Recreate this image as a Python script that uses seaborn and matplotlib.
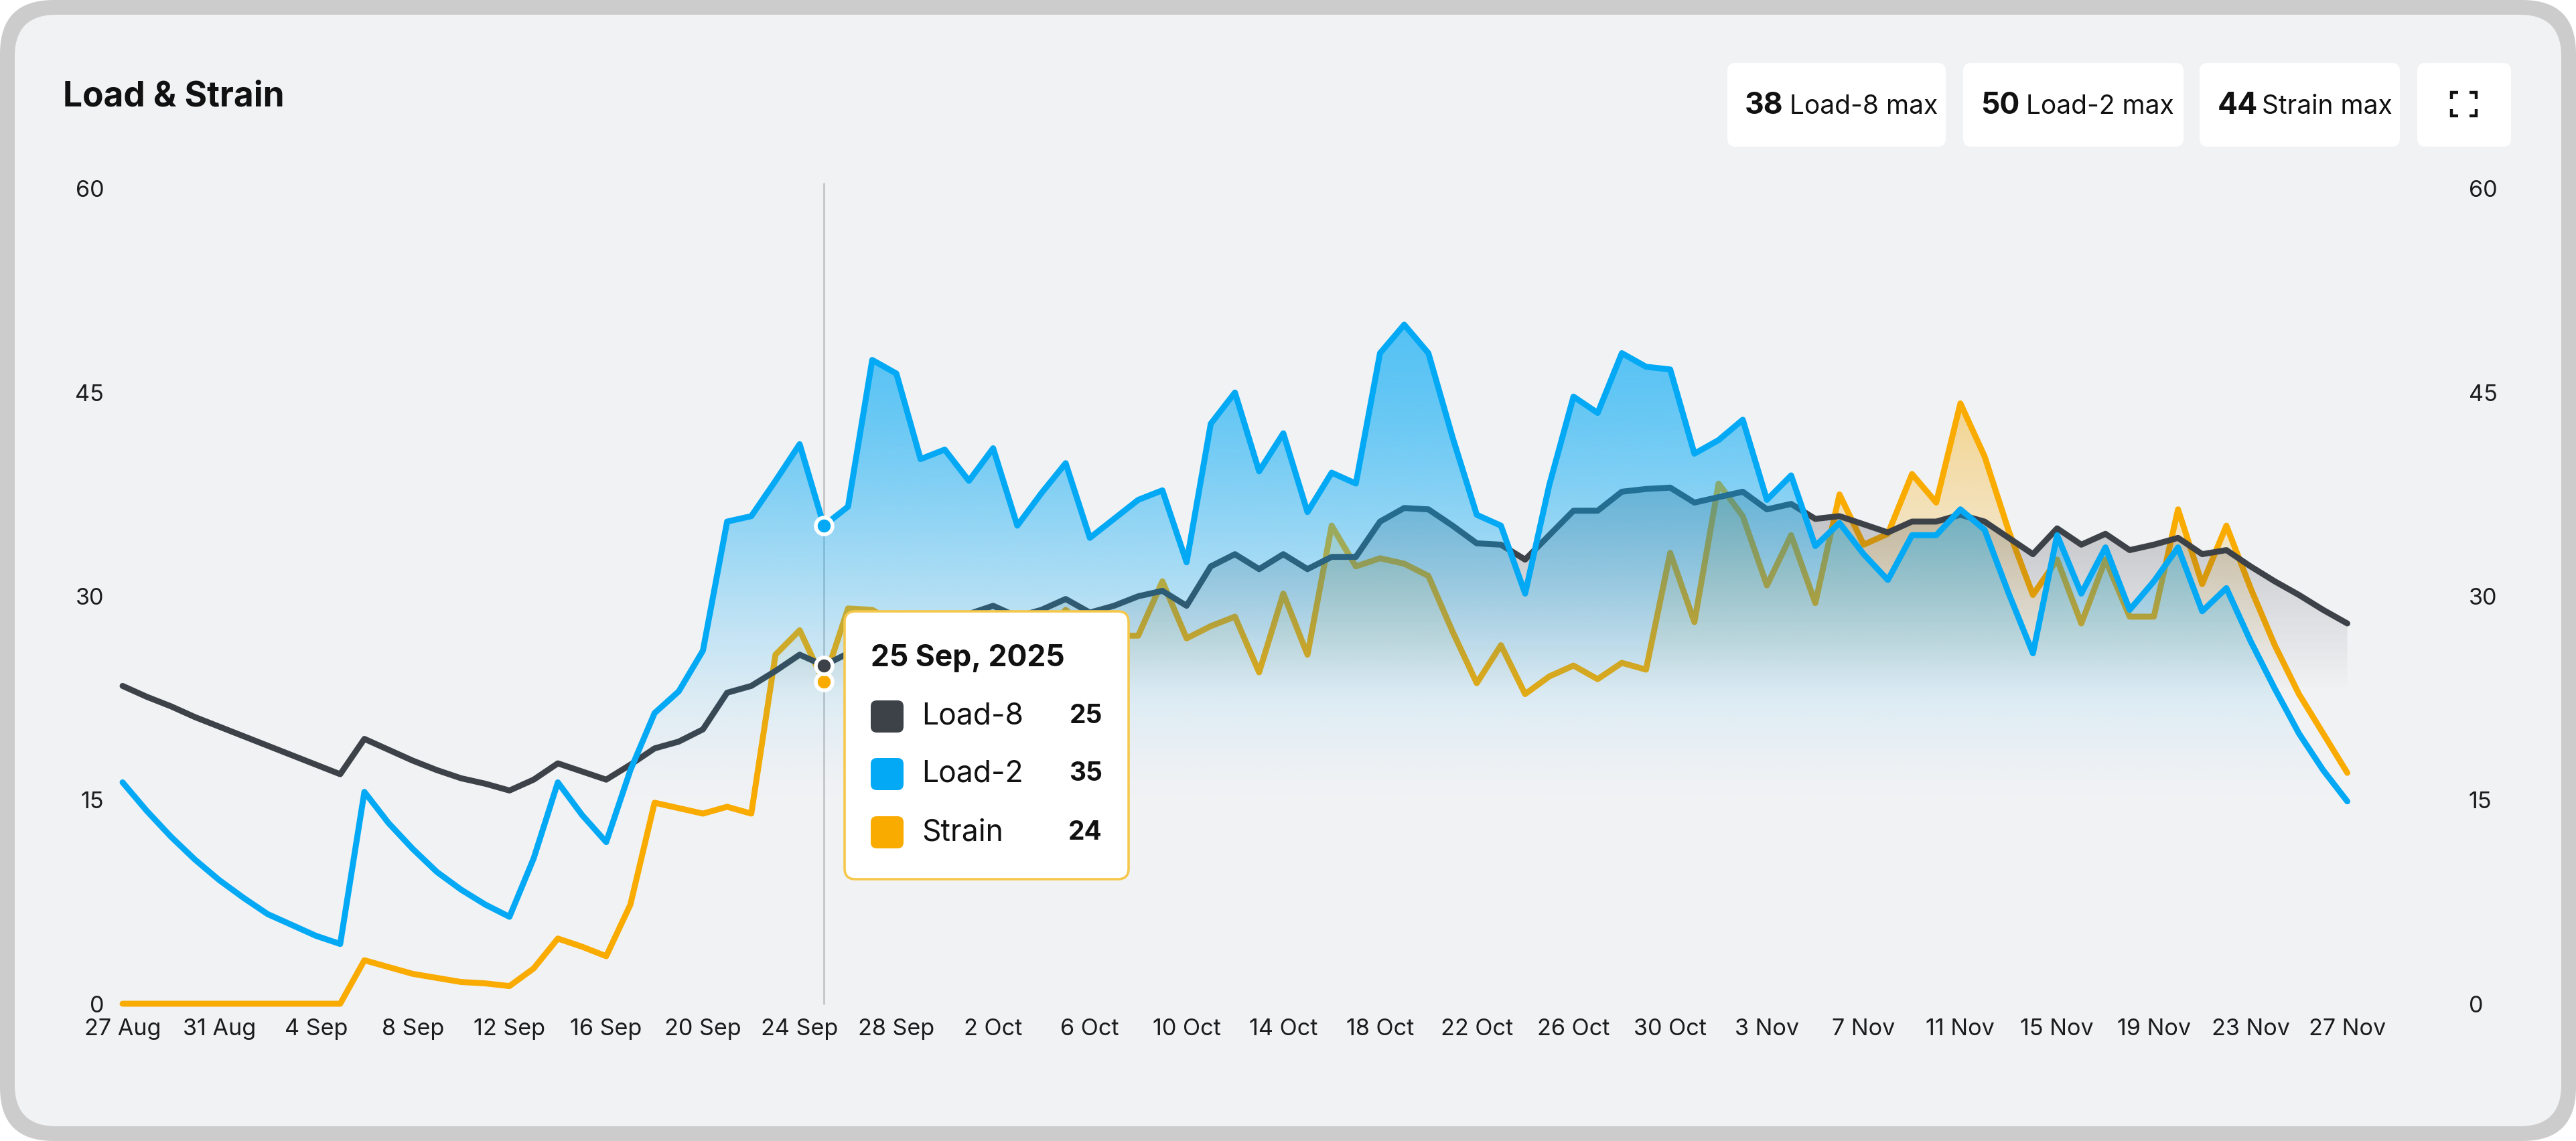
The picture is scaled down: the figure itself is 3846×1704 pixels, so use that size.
import numpy as np
import pandas as pd
import seaborn as sns
import matplotlib.pyplot as plt
from matplotlib.patches import FancyBboxPatch
from matplotlib.lines import Line2D

W, H, DPI = 3846, 1704, 200

#######################################################
### DATA (one value per day)
#######################################################
dates = pd.date_range('2025-08-27', '2025-11-27', freq='D')

load8 = [23.4, 22.6, 21.9, 21.1, 20.4, 19.7, 19.0, 18.3, 17.6, 16.9,
         19.5, 18.7, 17.9, 17.2, 16.6, 16.2, 15.7, 16.5, 17.7, 17.1,
         16.5, 17.6, 18.8, 19.3, 20.2, 22.9, 23.4, 24.5, 25.7, 24.9,
         25.8, 28.3, 28.6, 28.3, 28.0, 28.7, 29.3, 28.5, 29.0, 29.8,
         28.8, 29.3, 30.0, 30.4, 29.3, 32.2, 33.1, 32.0, 33.1, 32.0,
         32.9, 32.9, 35.5, 36.5, 36.4, 35.2, 33.9, 33.8, 32.7, 34.5,
         36.3, 36.3, 37.7, 37.9, 38.0, 36.9, 37.3, 37.7, 36.4, 36.8,
         35.7, 35.9, 35.3, 34.7, 35.5, 35.5, 36.0, 35.5, 34.3, 33.1,
         35.0, 33.8, 34.6, 33.4, 33.8, 34.3, 33.1, 33.4, 32.2, 31.1,
         30.1, 29.0, 28.0]

load2 = [16.3, 14.2, 12.3, 10.6, 9.1, 7.8, 6.6, 5.8, 5.0, 4.4,
         15.6, 13.3, 11.4, 9.7, 8.4, 7.3, 6.4, 10.7, 16.3, 13.9,
         11.9, 17.2, 21.4, 23.0, 26.0, 35.5, 35.9, 38.5, 41.2, 35.2,
         36.6, 47.4, 46.4, 40.1, 40.8, 38.5, 40.9, 35.2, 37.6, 39.8,
         34.3, 35.7, 37.1, 37.8, 32.5, 42.7, 45.0, 39.2, 42.0, 36.2,
         39.1, 38.3, 47.9, 50.0, 47.9, 41.7, 36.0, 35.2, 30.2, 38.2,
         44.7, 43.5, 47.9, 46.9, 46.7, 40.5, 41.5, 43.0, 37.1, 38.9,
         33.7, 35.4, 33.1, 31.2, 34.5, 34.5, 36.4, 34.9, 30.2, 25.8,
         34.5, 30.2, 33.6, 29.0, 31.1, 33.6, 28.9, 30.6, 26.7, 23.2,
         19.9, 17.2, 14.9]

strain = [0, 0, 0, 0, 0, 0, 0, 0, 0, 0,
          3.2, 2.7, 2.2, 1.9, 1.6, 1.5, 1.3, 2.6, 4.8, 4.2,
          3.5, 7.3, 14.8, 14.4, 14.0, 14.5, 14.0, 25.7, 27.5, 23.7,
          29.1, 29.0, 28.0, 26.5, 27.5, 28.5, 27.0, 25.5, 27.0, 29.0,
          27.5, 27.1, 27.1, 31.1, 26.9, 27.8, 28.5, 24.4, 30.2, 25.7,
          35.2, 32.2, 32.8, 32.4, 31.5, 27.4, 23.6, 26.4, 22.8, 24.1,
          24.9, 23.9, 25.1, 24.6, 33.2, 28.1, 38.3, 35.9, 30.8, 34.5,
          29.5, 37.5, 33.8, 34.6, 39.0, 36.9, 44.2, 40.3, 34.8, 30.1,
          32.7, 28.0, 32.7, 28.5, 28.5, 36.4, 30.9, 35.2, 30.6, 26.4,
          22.8, 19.9, 17.0]

series_names = ['Load-8', 'Load-2', 'Strain']
series_colors = ['#3d4249', '#03a9f4', '#f9ab00']
hover_day = 29
y_ticks = [0, 15, 30, 45, 60]

days = np.arange(len(dates))
tick_days = days[::4]
tick_labels = [f'{d.day} {d:%b}' for d in dates[::4]]

df = pd.DataFrame({'day': days, 'Load-8': load8, 'Load-2': load2, 'Strain': strain})

#######################################################
### STYLE
#######################################################
sns.set_theme(style='white')
plt.rcParams['font.family'] = ['Inter', 'DejaVu Sans']
txt_col = '#1c1c1c'

fig = plt.figure(figsize=(W / DPI, H / DPI), dpi=DPI, facecolor='white')
tr = fig.dpi_scale_trans


def box(x0, y0, x1, y1, r, **kw):
    # pixel coords measured from the top-left corner
    p = FancyBboxPatch((x0 / DPI, (H - y1) / DPI), (x1 - x0) / DPI, (y1 - y0) / DPI,
                       boxstyle=f'round,pad=0,rounding_size={r / DPI}', transform=tr, **kw)
    fig.add_artist(p)
    return p


def ftext(x, y, s, **kw):
    return fig.text(x / DPI, (H - y) / DPI, s, transform=tr, **kw)


# card
box(0, 0, W, H, 80, fc='#cccccc', ec='none', zorder=-20)
box(22, 22, W - 22, H - 22, 62, fc='#f1f2f4', ec='none', zorder=-19)

ftext(94, 145, 'Load & Strain', fontsize=18.5, fontweight='bold', color='#111111', va='center')

# stat boxes
stats = [(2579, 2905, 2605, 2672, load8, 'Load-8 max'),
         (2931, 3260, 2957, 3025, load2, 'Load-2 max'),
         (3284, 3583, 3311, 3377, strain, 'Strain max')]
for x0, x1, xn, xl, vals, lab in stats:
    box(x0, 94, x1, 219, 12, fc='white', ec='none', zorder=1)
    ftext(xn, 158, f'{round(max(vals))}', fontsize=16, fontweight='bold', color='#111111', va='center')
    ftext(xl, 160, lab, fontsize=14, color='#111111', va='center')

# expand icon
box(3609, 94, 3749, 219, 12, fc='white', ec='none', zorder=1)
ix0, ix1, iy0, iy1, arm = 3660, 3697, 138, 173, 10
for cx, cy, sx, sy in [(ix0, iy0, 1, 1), (ix1, iy0, -1, 1), (ix0, iy1, 1, -1), (ix1, iy1, -1, -1)]:
    xs = [(cx + sx * arm) / DPI, cx / DPI, cx / DPI]
    ys = [(H - cy) / DPI, (H - cy) / DPI, (H - (cy + sy * arm)) / DPI]
    fig.add_artist(Line2D(xs, ys, transform=tr, color='#111111', lw=1.6, zorder=2,
                          solid_capstyle='butt', solid_joinstyle='miter'))

#######################################################
### CHART
#######################################################
ax = fig.add_axes([183 / W, 205 / H, (3658 - 183) / W, (1499 - 282) / H])
ax.patch.set_visible(False)


def gradient_fill(y, color, alpha_fn, z):
    poly = ax.fill_between(days, y, 0, facecolor='none', edgecolor='none')
    vals = np.linspace(0, 60, 600)
    img = np.zeros((600, 1, 4))
    img[..., :3] = plt.matplotlib.colors.to_rgb(color)
    img[:, 0, 3] = alpha_fn(vals)
    im = ax.imshow(img, extent=[days[0], days[-1], 0, 60], origin='lower',
                   aspect='auto', interpolation='bilinear', zorder=z)
    im.set_clip_path(poly.get_paths()[0], transform=ax.transData)


def smooth(v, lo, hi):
    s = np.clip((v - lo) / (hi - lo), 0, 1)
    return s * s * (3 - 2 * s)


fades = {
    'Strain': lambda v: 0.40 * np.clip((v - 22) / 22, 0, 1) ** 1.2,
    'Load-8': lambda v: 0.30 * np.clip((v - 23) / 15, 0, 1),
    'Load-2': lambda v: 0.66 * smooth(v, 13.5, 52),
}
colors = dict(zip(series_names, series_colors))

z = 2
for name in ['Strain', 'Load-8', 'Load-2']:
    gradient_fill(df[name].values, colors[name], fades[name], z)
    sns.lineplot(data=df, x='day', y=name, color=colors[name], linewidth=3.2,
                 ax=ax, zorder=z + 1, clip_on=False)
    z += 2

# hover line + markers
ax.plot([hover_day, hover_day], [0, 60.4], color='#c6c6c6', lw=1.0, zorder=1.5, clip_on=False)
for name in ['Load-2', 'Strain', 'Load-8']:
    ax.plot(hover_day, df[name][hover_day], 'o', ms=9, mfc=colors[name], mec='white',
            mew=2, zorder=12, clip_on=False)

ax.set_xlim(0, 96.25)
ax.set_ylim(0, 60)
ax.set_xticks(tick_days)
ax.set_xticklabels(tick_labels)
ax.set_yticks(y_ticks)
ax.set_xlabel('')
ax.set_ylabel('')
sns.despine(ax=ax, left=True, bottom=True)
ax.tick_params(axis='x', length=0, pad=8, labelsize=12.3, labelcolor=txt_col)
ax.tick_params(axis='y', length=0, pad=10, labelsize=12.3, labelcolor=txt_col,
               labelleft=True, labelright=True)
ax.grid(False)

#######################################################
### TOOLTIP
#######################################################
box(1261, 913, 1685, 1313, 16, fc='white', ec='#f5c84c', lw=1.3, zorder=20)
ftext(1300, 983, f'{dates[hover_day].day} {dates[hover_day]:%b}, {dates[hover_day].year}',
      fontsize=16, fontweight='bold', color='#111111', va='center', zorder=21)
for i, name in enumerate(series_names):
    yc = [1070, 1156, 1243][i]
    box(1300, yc - 24, 1349, yc + 24, 9, fc=colors[name], ec='none', zorder=21)
    ftext(1376, yc, name, fontsize=16, color='#111111', va='center', zorder=21)
    ftext(1646, yc, f'{round(df[name][hover_day])}', fontsize=14, fontweight='bold',
          color='#111111', va='center', ha='right', zorder=21)

fig.savefig('out.png', dpi=DPI, facecolor='white')
